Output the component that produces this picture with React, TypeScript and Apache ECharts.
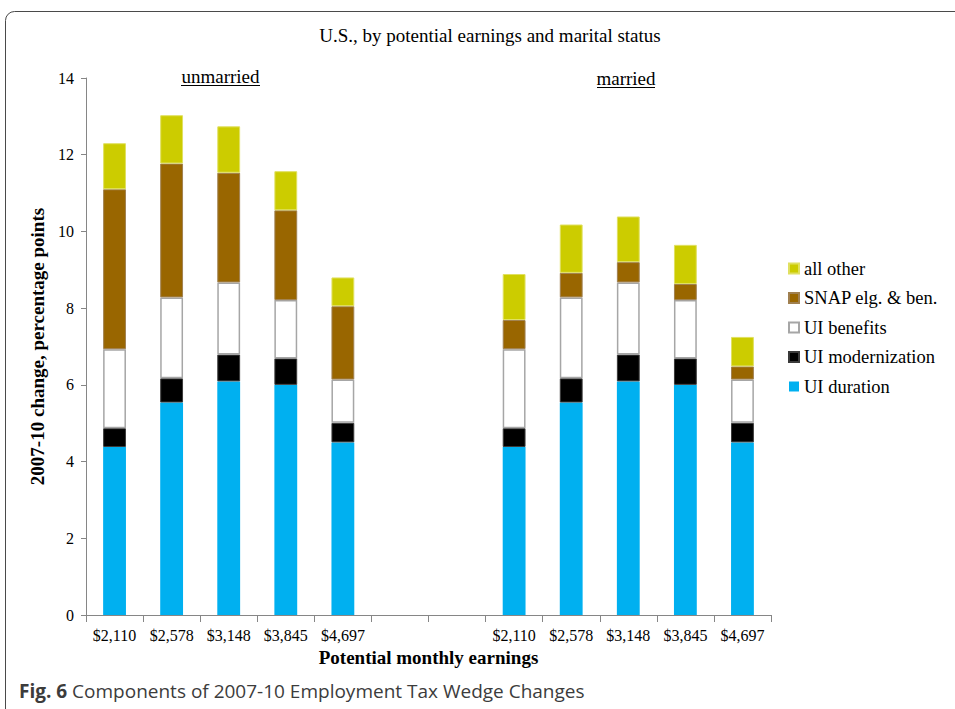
import React, { useEffect, useRef } from "react";
import * as echarts from "echarts";

const categories = ["$2,110", "$2,578", "$3,148", "$3,845", "$4,697", "", "", "$2,110", "$2,578", "$3,148", "$3,845", "$4,697"];
const uiDuration = [4.38, 5.54, 6.09, 6.0, 4.5, null, null, 4.38, 5.54, 6.09, 6.0, 4.5];
const uiModernization = [0.49, 0.63, 0.7, 0.69, 0.51, null, null, 0.49, 0.63, 0.7, 0.69, 0.51];
const uiBenefits = [2.06, 2.11, 1.88, 1.52, 1.13, null, null, 2.06, 2.11, 1.88, 1.52, 1.13];
const snap = [4.17, 3.49, 2.86, 2.34, 1.91, null, null, 0.76, 0.64, 0.53, 0.42, 0.34];
const allOther = [1.2, 1.26, 1.21, 1.02, 0.75, null, null, 1.2, 1.26, 1.19, 1.02, 0.77];
const yTicks = { min: 0, max: 14, interval: 2 };

const SERIF = "'Liberation Serif', 'Times New Roman', serif";
const SANS = "'Open Sans', 'Noto Sans', sans-serif";

export default function App() {
  const ref = useRef<HTMLDivElement>(null);
  useEffect(() => {
    document.body.style.margin = "0";
    const chart = echarts.init(ref.current!, null, { renderer: "svg" });
    const bar = (name: string, data: (number | null)[], color: string, border: string, bw = 1) => ({
      name,
      type: "bar",
      stack: "total",
      data,
      barWidth: "40%",
      itemStyle: { color, borderColor: border, borderWidth: bw },
      emphasis: { disabled: true },
    });
    chart.setOption({
      animation: false,
      backgroundColor: "#fff",
      textStyle: { fontFamily: SERIF },
      title: {
        text: "U.S., by potential earnings and marital status",
        left: 485,
        textAlign: "center",
        top: 21,
        textStyle: { fontFamily: SERIF, fontSize: 19, fontWeight: "normal", color: "#000" },
      },
      legend: {
        orient: "vertical",
        left: 783,
        top: 254,
        itemWidth: 10,
        itemHeight: 10,
        itemGap: 10.5,
        icon: "rect",
        data: ["all other", "SNAP elg. & ben.", "UI benefits", "UI modernization", "UI duration"],
        textStyle: { fontFamily: SERIF, fontSize: 18.5, color: "#000" },
      },
      grid: { left: 86, right: 184, top: 78, bottom: 94 },
      xAxis: {
        type: "category",
        data: categories,
        name: "Potential monthly earnings",
        nameLocation: "middle",
        nameGap: 32,
        nameTextStyle: { fontFamily: SERIF, fontSize: 19, fontWeight: "bold", color: "#000" },
        axisLine: { lineStyle: { color: "#868686" } },
        axisTick: { show: true, length: 7, lineStyle: { color: "#868686" }, alignWithLabel: false },
        axisLabel: { fontFamily: SERIF, fontSize: 16, color: "#000", margin: 12, interval: 0 },
      },
      yAxis: {
        type: "value",
        ...yTicks,
        name: "2007-10 change, percentage points",
        nameLocation: "middle",
        nameGap: 35,
        nameRotate: 90,
        nameTextStyle: { fontFamily: SERIF, fontSize: 19, fontWeight: "bold", color: "#000" },
        splitLine: { show: false },
        axisLine: { show: true, lineStyle: { color: "#868686" } },
        axisTick: { show: true, length: 5, lineStyle: { color: "#868686" } },
        axisLabel: { fontFamily: SERIF, fontSize: 16, color: "#000", margin: 12 },
      },
      series: [
        bar("UI duration", uiDuration, "#00B0F0", "#00B0F0", 0),
        bar("UI modernization", uiModernization, "#000000", "#3a3a3a"),
        bar("UI benefits", uiBenefits, "#ffffff", "#a6a6a6", 1.5),
        bar("SNAP elg. & ben.", snap, "#996600", "#a08050", 1),
        bar("all other", allOther, "#CCCC00", "#e0e060", 1),
      ],
      graphic: [
        {
          type: "rect",
          shape: { x: 5.5, y: 11.5, width: 1000, height: 760, r: 9 },
          style: { fill: "none", stroke: "#4a4a4a", lineWidth: 1 },
          silent: true,
        },
        {
          type: "text",
          x: 220.5,
          y: 76,
          style: { text: "unmarried", font: `19px ${SERIF}`, fill: "#000", textAlign: "center", textVerticalAlign: "middle" },
        },
        { type: "line", shape: { x1: 181, y1: 85.5, x2: 260, y2: 85.5 }, style: { stroke: "#000", lineWidth: 1 } },
        {
          type: "text",
          x: 626,
          y: 78,
          style: { text: "married", font: `19px ${SERIF}`, fill: "#000", textAlign: "center", textVerticalAlign: "middle" },
        },
        { type: "line", shape: { x1: 597, y1: 87.5, x2: 655, y2: 87.5 }, style: { stroke: "#000", lineWidth: 1 } },
        {
          type: "text",
          x: 19,
          y: 691,
          style: {
            text: "{b|Fig. 6} Components of 2007-10 Employment Tax Wedge Changes",
            font: `19px ${SANS}`,
            fill: "#3c3c3c",
            textVerticalAlign: "middle",
            rich: {
              b: { fontWeight: "bold", fontSize: 19, fontFamily: SANS, fill: "#3c3c3c" },
            },
          },
        },
      ],
    });
    return () => chart.dispose();
  }, []);
  return <div ref={ref} style={{ width: 955, height: 709 }} />;
}
